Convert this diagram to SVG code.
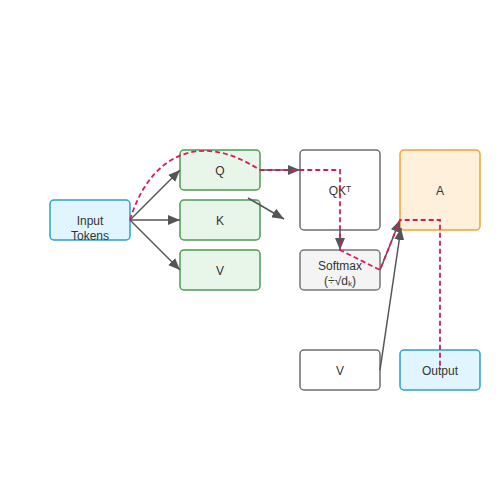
<svg xmlns="http://www.w3.org/2000/svg" width="500" height="500" viewBox="0 0 500 500">
<style>
text{font-family:"Liberation Sans",Arial,sans-serif;font-size:12px;fill:#333;text-anchor:middle}
.blue{fill:#e1f5fe;stroke:#2a9fd8;stroke-width:1.5}
.green{fill:#e8f5e9;stroke:#4a9d4e;stroke-width:1.5}
.grey{fill:#ffffff;stroke:#6d6d6d;stroke-width:1.5}
.soft{fill:#f4f4f4;stroke:#777;stroke-width:1.5}
.orange{fill:#fff0dc;stroke:#f7a030;stroke-width:1.5}
.c{stroke:#555;stroke-width:1.5;fill:none;marker-end:url(#ah)}
.d{stroke:#d81b60;stroke-width:1.8;fill:none;stroke-dasharray:5,3}
</style>
<defs>
<marker id="ah" markerWidth="12" markerHeight="10" refX="12" refY="5" orient="auto" markerUnits="userSpaceOnUse">
<path d="M0,0 L12,5 L0,10 Z" fill="#555"/>
</marker>
</defs>
<rect width="500" height="500" fill="#fff"/>
<g id="input"><rect class="blue" x="50" y="200" width="80" height="40" rx="4"/><text x="90" y="225">Input</text><text x="90" y="240">Tokens</text></g>
<g id="q"><rect class="green" x="180" y="150" width="80" height="40" rx="4"/><text x="220" y="175">Q</text></g>
<g id="k"><rect class="green" x="180" y="200" width="80" height="40" rx="4"/><text x="220" y="225">K</text></g>
<g id="v1"><rect class="green" x="180" y="250" width="80" height="40" rx="4"/><text x="220" y="275">V</text></g>
<g id="qkt"><rect class="grey" x="300" y="150" width="80" height="80" rx="4"/><text x="340" y="195">QKᵀ</text></g>
<g id="a"><rect class="orange" x="400" y="150" width="80" height="80" rx="4"/><text x="440" y="195">A</text></g>
<g id="softmax"><rect class="soft" x="300" y="250" width="80" height="40" rx="4"/><text x="340" y="270">Softmax</text><text x="340" y="285">(÷√dₖ)</text></g>
<g id="v2"><rect class="grey" x="300" y="350" width="80" height="40" rx="4"/><text x="340" y="375">V</text></g>
<g id="output"><rect class="blue" x="400" y="350" width="80" height="40" rx="4"/><text x="440" y="375">Output</text></g>
<g id="connectors">
<path class="c" d="M130,220 L180,170"/>
<path class="c" d="M130,220 L180,220"/>
<path class="c" d="M130,220 L180,270"/>
<path class="c" d="M260,170 L300,170"/>
<path class="c" d="M248,198 L284,219"/>
<path class="c" d="M340,230 L340,250"/>
<path class="c" d="M380,270 L400,220"/>
<path class="c" d="M380,370 L401,228"/>
<path class="d" d="M130,220 C148,160 195,128 260,170 L340,170 L340,250 L380,270 L400,220 L440,220 L440,370"/>
</g>
</svg>
